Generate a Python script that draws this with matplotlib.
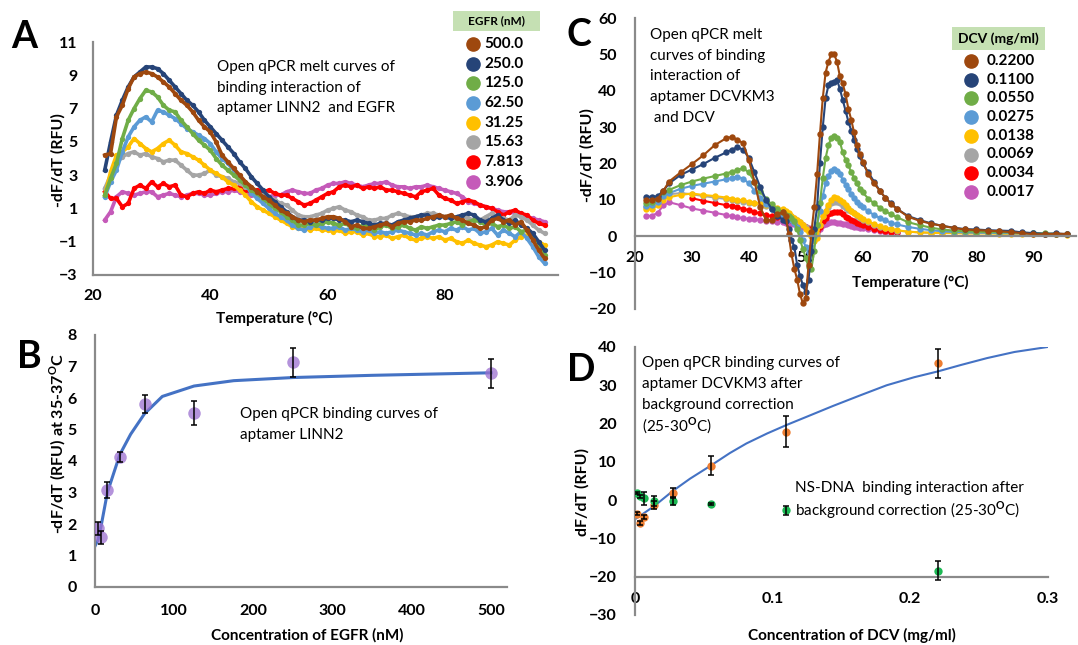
import numpy as np
import matplotlib
matplotlib.use("Agg")
import matplotlib.pyplot as plt
from matplotlib.lines import Line2D
from matplotlib.patches import Rectangle

plt.rcParams['font.family'] = ['Lato', 'DejaVu Sans']
plt.rcParams['font.weight'] = 'bold'
plt.rcParams['axes.labelweight'] = 'bold'
plt.rcParams['mathtext.fontset'] = 'custom'
plt.rcParams['mathtext.rm'] = 'Lato'
plt.rcParams['mathtext.bf'] = 'Lato:bold'

nan = np.nan

# ---------------- panel A : melt curves LINN2 / EGFR ----------------
A_labels = ['500.0', '250.0', '125.0', '62.50', '31.25', '15.63', '7.813', '3.906']
A_temp = [22, 23, 24, 25, 26, 27, 28, 29, 30, 31,
          32, 33, 34, 35, 36, 37, 38, 39, 40, 41,
          42, 43, 44, 45, 46, 47, 48, 49, 50, 51,
          52, 53, 54, 55, 56, 57, 58, 59, 60, 61,
          62, 63, 64, 65, 66, 67, 68, 69, 70, 71,
          72, 73, 74, 75, 76, 77, 78, 79, 80, 81,
          82, 83, 84, 85, 86, 87, 88, 89, 90, 91,
          92, 93, 94, 95, 96, 97]
A_500 = [4.2, 4.3, 6.5, 7.2, 8.2, 8.9, 9.1, 9.2, 9.1, 8.9,
         8.6, 8.3, 7.9, 7.5, 7.2, 6.8, 6.3, 5.9, 5.6, 5.0,
         4.2, 3.8, 3.4, 3.0, 2.6, 2.3, 2.0, 1.7, 1.5, 1.2,
         0.9, 0.7, 0.5, 0.3, 0.2, 0.3, 0.3, 0.4, 0.5, 0.5,
         0.4, 0.2, -0.1, 0.0, -0.2, -0.2, -0.1, 0.0, 0.1, -0.1,
         0.1, 0.2, 0.2, 0.3, 0.3, 0.4, 0.5, 0.6, 0.5, 0.6,
         0.4, 0.3, 0.1, 0.0, -0.2, -0.1, 0.3, 0.4, 0.2, 0.3,
         0.0, 0.2, -0.3, -0.9, -1.5, -2.0]
A_250 = [3.3, 5.0, 6.6, 7.5, 8.3, 8.9, 9.2, 9.5, 9.5, 9.4,
         9.1, 8.7, 8.3, 7.9, 7.5, 7.2, 6.8, 6.3, 5.9, 5.5,
         5.1, 4.7, 4.3, 3.8, 3.4, 2.9, 2.5, 2.1, 1.7, 1.4,
         1.1, 0.8, 0.5, 0.3, 0.3, 0.2, 0.3, 0.3, 0.4, 0.4,
         0.3, 0.3, 0.2, 0.3, 0.2, 0.1, 0.0, 0.1, 0.1, 0.0,
         0.2, 0.3, 0.4, 0.5, 0.6, 0.6, 0.4, 0.5, 0.5, 0.4,
         0.5, 0.6, 0.7, 0.6, 0.3, 0.2, 0.4, 0.6, 0.3, 0.1,
         0.3, 0.0, -0.2, -0.5, -1.0, -1.5]
A_125 = [1.8, 2.8, 3.7, 5.2, 6.3, 7.0, 7.6, 8.1, 8.0, 7.7,
         7.2, 6.9, 6.8, 6.3, 5.9, 5.5, 5.1, 4.8, 4.5, 4.0,
         3.6, 3.3, 3.0, 2.7, 2.4, 2.1, 1.9, 1.6, 1.3, 1.0,
         0.8, 0.5, 0.3, 0.0, 0.0, 0.1, 0.0, 0.1, 0.2, 0.1,
         0.0, 0.1, -0.1, -0.2, 0.0, -0.1, -0.3, -0.1, 0.0, -0.2,
         -0.1, 0.0, -0.2, -0.3, -0.1, -0.2, -0.1, 0.0, 0.0, 0.1,
         0.2, 0.0, 0.2, 0.3, 0.2, 0.0, 0.1, -0.1, 0.0, -0.2,
         -0.1, -0.4, -0.3, -0.8, -1.3, -1.8]
A_62 = [1.7, 2.6, 3.3, 4.4, 5.3, 5.9, 6.3, 6.5, 6.2, 6.9,
        6.8, 6.6, 6.4, 6.1, 5.8, 5.6, 5.4, 5.2, 4.9, 4.4,
        4.0, 3.7, 3.3, 2.9, 2.5, 1.9, 1.6, 1.3, 1.0, 0.7,
        0.5, 0.3, 0.0, -0.2, -0.3, -0.1, 0.0, -0.1, -0.2, -0.2,
        -0.1, -0.3, -0.2, -0.3, -0.4, -0.3, -0.5, -0.4, -0.5, -0.4,
        -0.3, -0.4, -0.5, -0.6, -0.5, -0.6, -0.4, -0.3, -0.4, -0.2,
        -0.3, -0.1, -0.3, -0.2, -0.5, -0.4, -0.2, -0.6, -0.3, -0.5,
        -0.7, -0.4, -0.8, -1.3, -1.9, -2.3]
A_31 = [1.8, 3.2, 4.2, 4.4, 4.7, 5.2, 4.9, 4.6, 4.4, 4.6,
        4.9, 5.1, 4.8, 4.4, 4.3, 4.1, 3.9, 3.6, 3.3, 3.1,
        2.9, 2.6, 2.4, 2.1, 1.8, 1.4, 1.1, 0.9, 0.7, 0.5,
        0.3, 0.1, -0.1, -0.2, -0.2, -0.3, -0.2, -0.3, -0.3, -0.4,
        -0.3, -0.5, -0.4, -0.4, -0.6, -0.5, -0.7, -0.7, -0.6, -0.8,
        -0.7, -0.6, -0.8, -0.9, -0.8, -0.7, -0.8, -0.7, -0.9, -0.8,
        -1.0, -1.1, -0.9, -1.1, -1.2, -1.3, -1.2, -1.0, -1.1, -1.2,
        -0.9, -0.7, -0.6, -0.8, -1.0, -1.2]
A_15 = [2.2, 3.0, 3.7, 4.1, 4.3, 4.4, 4.2, 4.3, 4.1, 4.0,
        3.8, 3.9, 3.9, 3.6, 3.3, 3.0, 3.0, 3.1, 3.3, 3.0,
        2.9, 2.8, 2.6, 2.5, 2.3, 2.1, 1.9, 1.8, 1.7, 1.5,
        1.3, 1.2, 0.9, 0.6, 0.5, 0.5, 0.6, 0.7, 0.9, 1.0,
        1.1, 0.9, 0.8, 0.6, 0.5, 0.3, 0.3, 0.4, 0.4, 0.6,
        0.7, 0.6, 0.5, 0.5, 0.6, 0.7, 0.7, 0.6, 0.5, 0.5,
        0.4, 0.5, 0.4, 0.3, 0.3, 0.5, 0.7, 0.5, 0.4, 0.3,
        0.6, 0.5, 0.3, 0.0, -0.3, -0.5]
A_7 = [2.0, 1.6, 1.6, 1.1, 1.3, 2.2, 2.4, 2.2, 2.6, 2.3,
       2.5, 2.3, 2.4, 1.8, 1.7, 1.9, 2.0, 1.9, 2.1, 2.0,
       2.1, 2.2, 2.2, 2.3, 2.1, 2.0, 2.1, 2.0, 2.1, 1.9,
       1.8, 1.8, 1.6, 1.4, 1.2, 1.3, 1.5, 1.7, 1.9, 2.0,
       2.3, 2.4, 2.3, 2.4, 2.2, 2.3, 2.2, 2.3, 2.1, 2.1,
       2.0, 1.9, 1.8, 1.7, 2.0, 2.1, 2.2, 1.8, 1.6, 1.5,
       1.3, 1.4, 1.5, 1.4, 1.2, 1.1, 1.0, 0.8, 0.6, 0.8,
       0.9, 0.7, 0.6, 0.3, 0.1, 0.0]
A_3 = [0.3, 0.8, 1.7, 2.0, 1.9, 1.8, 1.9, 2.0, 2.0, 1.7,
       1.8, 1.9, 1.8, 1.7, 1.8, 1.9, 1.9, 1.8, 1.8, 1.9,
       2.0, 2.0, 2.1, 2.0, 1.9, 1.8, 1.8, 1.7, 1.7, 1.8,
       1.8, 2.0, 2.1, 2.0, 1.9, 1.9, 2.1, 2.2, 2.4, 2.5,
       2.5, 2.6, 2.5, 2.4, 2.3, 2.4, 2.5, 2.5, 2.6, 2.4,
       2.3, 2.3, 2.2, 2.3, 2.3, 2.4, 2.3, 2.2, 2.1, 2.0,
       1.9, 1.7, 1.4, 1.3, 1.2, 1.1, 1.0, 0.9, 0.8, 0.8,
       0.7, 0.6, 0.5, 0.4, 0.3, 0.2]
A_series = [A_500, A_250, A_125, A_62, A_31, A_15, A_7, A_3]

# ---------------- panel C : melt curves DCVKM3 / DCV ----------------
C_labels = ['0.2200', '0.1100', '0.0550', '0.0275', '0.0138', '0.0069', '0.0034', '0.0017']
C_temp = [22, 23, 24, 25, 26, 28, 30, 32, 34, 36,
          37, 38, 39, 40, 41, 42, 43, 44, 45, 46,
          46.5, 47, 47.5, 48, 48.5, 49, 49.5, 50, 50.5, 51,
          51.5, 52, 52.5, 53, 53.5, 54, 54.5, 55, 55.5, 56,
          56.5, 57, 57.5, 58, 58.5, 59, 59.5, 60, 61, 62,
          63, 64, 65, 66, 68, 70, 72, 74, 76, 78,
          80, 82, 84, 86, 88, 90, 92, 94, 96]
C_0220 = [9.9, 9.8, 10.2, 12.5, 15.0, 17.5, 19.8, 22.2, 25.0, 26.9,
          27.3, 26.5, 25.5, 21.0, 15.0, 8.0, 4.5, 4.3, 6.0, 6.5,
          5.5, 0.5, -5.0, -9.0, -12.0, -16.0, -18.5, -17.0, -8.0, 1.0,
          8.0, 17.0, 28.0, 38.0, 45.0, 48.0, 50.0, 50.0, 48.0, 44.0,
          42.0, 39.0, 35.0, 32.0, 28.5, 25.0, 22.5, 20.5, 17.0, 14.5,
          12.5, 10.5, 8.8, 7.5, 5.3, 4.2, 3.4, 2.8, 2.2, 1.8,
          1.6, 1.5, 1.3, 1.1, 0.8, 0.5, 0.5, 0.6, 0.6]
C_0110 = [10.8, 10.8, 11.0, 12.5, 14.5, 16.8, 18.3, 19.8, 21.5, 23.0,
          23.8, 24.4, 23.8, 21.5, 17.5, 13.5, 10.0, 7.5, 5.5, 4.5,
          4.0, 2.0, -1.0, -3.0, -8.0, -11.0, -13.5, -15.5, -12.0, -4.0,
          2.0, 8.0, 20.0, 30.0, 38.0, 41.5, 42.0, 42.5, 43.0, 40.5,
          37.5, 34.5, 31.5, 29.0, 26.5, 24.0, 22.0, 20.0, 17.5, 15.0,
          12.5, 10.5, 9.0, 7.5, 5.5, 4.4, 3.5, 2.8, 2.3, 1.9,
          1.8, 1.6, 1.5, 1.4, 1.0, 0.8, 0.6, 0.7, 0.5]
C_0055 = [9.0, 9.5, 10.5, 12.0, 12.7, 14.0, 15.0, 15.8, 16.5, 17.2,
          17.7, 18.2, 18.7, 17.5, 15.0, 12.3, 10.3, 8.7, 7.5, 6.5,
          5.8, 5.5, 5.0, 4.0, 2.0, -1.0, -3.5, -6.0, -8.5, -9.0,
          -4.0, 3.0, 9.0, 16.0, 21.5, 25.0, 27.0, 27.5, 27.0, 26.0,
          23.0, 21.0, 19.5, 17.5, 16.0, 14.5, 13.0, 12.0, 10.3, 9.0,
          7.8, 6.8, 6.0, 5.2, 3.8, 3.0, 2.3, 1.8, 1.5, 1.3,
          1.2, 1.1, 1.0, 1.0, 0.9, 0.8, 0.7, 0.6, 0.5]
C_0275 = [8.4, 8.5, 9.5, 11.0, 11.8, 13.0, 13.8, 14.4, 15.0, 15.6,
          16.0, 16.3, 15.8, 14.5, 12.5, 10.5, 8.8, 7.5, 6.5, 5.8,
          5.3, 5.0, 4.5, 3.5, 2.5, 1.0, -1.0, -3.0, -4.5, -3.0,
          0.0, 3.0, 7.0, 11.0, 14.5, 16.5, 18.0, 18.5, 18.0, 17.0,
          15.5, 14.0, 13.0, 11.5, 10.5, 9.5, 8.6, 8.0, 6.8, 5.8,
          5.0, 4.3, 3.7, 3.2, 2.5, 2.0, 1.6, 1.3, 1.1, 1.0,
          0.9, 0.9, 0.8, 0.8, 0.7, 0.7, 0.6, 0.5, 0.5]
C_0138 = [7.3, 7.5, 8.5, 10.0, 10.7, 11.3, 11.7, 11.3, 11.0, 10.6,
          10.3, 10.0, 9.8, 9.5, 9.2, 9.0, 8.6, 8.2, 7.8, 7.3,
          6.8, 6.2, 5.6, 5.0, 4.4, 3.8, 3.0, 2.0, 1.0, 0.0,
          -1.5, -0.5, 3.0, 5.5, 7.0, 8.5, 10.0, 10.8, 10.5, 10.0,
          9.3, 8.5, 7.8, 7.0, 6.4, 5.8, 5.3, 4.8, 4.0, 3.3,
          2.7, 2.2, 1.9, 1.6, 1.2, 1.0, 0.9, 0.8, 0.8, 0.7,
          0.7, 0.7, 0.6, 0.6, 0.6, 0.5, 0.5, 0.5, 0.4]
C_0069 = [8.0, 8.3, 9.5, 11.0, 11.5, 11.8, 11.5, 11.0, 10.6, 10.2,
          10.0, 9.7, 9.5, 9.2, 9.0, 8.7, 8.3, 7.8, 7.3, 6.8,
          6.4, 6.0, 5.5, 5.0, 4.4, 3.8, 3.1, 2.5, 1.5, 0.5,
          -0.5, 0.5, 3.0, 5.5, 7.0, 8.0, 9.0, 9.3, 9.5, 9.0,
          8.3, 7.8, 7.2, 6.8, 6.2, 5.6, 5.0, 4.5, 3.8, 3.1,
          2.6, 2.1, 1.8, 1.5, 1.2, 1.0, 0.9, 0.9, 0.9, 0.8,
          0.8, 0.9, 0.9, 1.2, 0.9, 0.7, 0.6, 0.6, 0.5]
C_0034 = [nan, nan, nan, nan, nan, nan, 10.4, 9.7, 9.1, 8.5,
          8.2, 7.9, 7.5, 7.1, 6.6, 6.2, 5.8, 5.5, 5.2, 5.0,
          4.8, 4.6, 4.3, 4.0, 3.7, 3.4, 3.0, 2.5, 2.0, 1.5,
          0.8, 1.5, 2.6, 4.2, 5.0, 6.0, 6.3, 6.5, 6.7, 6.6,
          6.0, 5.3, 4.9, 4.5, 4.1, 3.7, 3.3, 3.0, 2.5, 2.0,
          1.6, 1.3, 1.1, 1.0, nan, nan, nan, nan, nan, nan,
          nan, nan, nan, nan, nan, nan, nan, nan, nan]
C_0017 = [5.5, 5.6, 6.4, 8.5, 9.3, 8.5, 7.6, 7.0, 6.4, 5.8,
          5.4, 5.1, 4.9, 4.7, 4.6, 4.4, 4.2, 4.1, 3.9, 3.8,
          3.7, 3.6, 3.4, 3.2, 3.0, 2.8, 2.6, 2.4, 2.1, 1.7,
          1.3, 1.2, 2.0, 3.0, 3.4, 3.6, 3.8, 3.8, 3.7, 3.6,
          3.4, 3.2, 3.0, 2.8, 2.6, 2.5, 2.3, 2.2, 1.9, 1.6,
          1.3, 1.1, 0.9, 0.8, nan, nan, nan, nan, nan, nan,
          nan, nan, nan, nan, nan, nan, nan, nan, nan]
C_series = [C_0220, C_0110, C_0055, C_0275, C_0138, C_0069, C_0034, C_0017]

# ---------------- panel B : binding curve LINN2 ----------------
B_conc = [3.906, 7.813, 15.63, 31.25, 62.5, 125, 250, 500]
B_val = [1.86, 1.58, 3.08, 4.12, 5.80, 5.51, 7.13, 6.78]
B_err = [0.20, 0.20, 0.25, 0.15, 0.28, 0.38, 0.45, 0.47]
B_fit_conc = [0, 3.906, 7.813, 15.63, 31.25, 45, 62.5, 85, 125, 175, 250, 350, 500]
B_fit_val = [1.3, 1.5, 1.95, 3.0, 4.2, 4.85, 5.5, 6.05, 6.38, 6.55, 6.65, 6.72, 6.8]

# ---------------- panel D : binding curve DCVKM3 ----------------
D_conc = [0.0017, 0.0034, 0.0069, 0.0138, 0.0275, 0.055, 0.11, 0.22]
D_apt = [-3.6, -5.9, -4.3, -1.3, 1.9, 9.0, 17.9, 35.7]
D_apt_err = [0.4, 0.5, 0.5, 1.0, 1.4, 2.4, 4.0, 3.9]
D_ns = [1.8, 1.0, 0.5, -0.1, -0.2, -1.0, -2.7, -18.4]
D_ns_err = [0.3, 0.4, 1.7, 1.3, 1.0, 0.3, 1.2, 2.5]
D_fit_conc = [0, 0.0069, 0.0138, 0.0275, 0.04, 0.055, 0.069, 0.081, 0.096, 0.11,
              0.125, 0.144, 0.164, 0.183, 0.203, 0.22, 0.237, 0.256, 0.276, 0.3]
D_fit_val = [-5.0, -3.3, -1.6, 2.4, 5.6, 9.0, 12.3, 14.8, 17.4, 19.6,
             21.8, 24.6, 27.4, 30.0, 32.1, 33.6, 35.3, 37.1, 38.7, 40.0]
D_xticklabels = ['0', '0.1', '0.2', '0.3']

colors = ['#9e480e', '#264478', '#70ad47', '#5b9bd5', '#ffc000', '#a5a5a5', '#ff0000', '#c55ab9']
grey = '#8a8a8a'

W, H = 1078, 645
fig = plt.figure(figsize=(W / 100, H / 100), dpi=100)


def box(l, t, r, b):
    return [l / W, 1 - b / H, (r - l) / W, (b - t) / H]


def axcoord(bx, px, py):
    l, t, r, b = bx
    return (px - l) / (r - l), (b - py) / (b - t)


def basic(ax):
    ax.spines['top'].set_visible(False)
    ax.spines['right'].set_visible(False)
    for s in ['left', 'bottom']:
        ax.spines[s].set_color(grey)
        ax.spines[s].set_linewidth(1.6)
    ax.tick_params(length=0, labelsize=11.5)
    ax.set_facecolor('none')


def ftext(px, py, s, **kw):
    fig.text(px / W, 1 - py / H, s, **kw)


def key(header, hbox, labels, mx, tx, y0, dy, hsize):
    l, t, r, b = hbox
    fig.add_artist(Rectangle((l / W, 1 - b / H), (r - l) / W, (b - t) / H,
                             transform=fig.transFigure, facecolor='#c5e0b3', edgecolor='none'))
    ftext((l + r) / 2, (t + b) / 2, header, ha='center', va='center', fontsize=hsize)
    for i, (lab, c) in enumerate(zip(labels, colors)):
        y = y0 + dy * i
        fig.add_artist(Line2D([mx / W], [1 - y / H], transform=fig.transFigure,
                              marker='o', ms=9.5, color=c, ls='none'))
        ftext(tx, y, lab, ha='left', va='center', fontsize=11)


# ---- A ----
bxA = (93, 42, 558, 275)
axA = fig.add_axes(box(*bxA))
basic(axA)
for vals, c in reversed(list(zip(A_series, colors))):
    axA.plot(A_temp, vals, color=c, lw=2.6, marker='o', ms=3.8, mew=0)
axA.set_xlim(20, 99.3)
axA.set_ylim(-3, 11)
axA.set_xticks([20, 40, 60, 80])
axA.set_yticks([-3, -1, 1, 3, 5, 7, 9, 11])
axA.tick_params(axis='x', pad=10)
axA.tick_params(axis='y', pad=11)
axA.set_xlabel('Temperature (°C)', fontsize=11, va='center')
axA.xaxis.set_label_coords(*axcoord(bxA, 274, 318))
axA.set_ylabel('-dF/dT (RFU)', fontsize=11.5, va='center')
axA.yaxis.set_label_coords(*axcoord(bxA, 58, 160))
for i, line in enumerate(['Open qPCR melt curves of', 'binding interaction of',
                          'aptamer LINN2  and EGFR']):
    ftext(217, 67 + 20.7 * i, line, fontsize=11, fontweight='normal', va='center')
key('EGFR (nM)', (453, 11, 540, 31), A_labels, 473, 484, 44, 19.7, 8.5)

# ---- C ----
bxC = (635, 18, 1076, 308.7)
axC = fig.add_axes(box(*bxC))
basic(axC)
for vals, c in reversed(list(zip(C_series, colors))):
    axC.plot(C_temp, vals, color=c, lw=1.5, marker='o', ms=4.6, mew=0)
axC.set_xlim(20, 97.5)
axC.set_ylim(-20, 60)
axC.spines['bottom'].set_position(('data', 0))
axC.set_xticks([20, 30, 40, 50, 60, 70, 80, 90])
axC.set_yticks([-20, -10, 0, 10, 20, 30, 40, 50, 60])
axC.tick_params(axis='x', pad=11)
axC.tick_params(axis='y', pad=13)
axC.set_xlabel('Temperature (°C)', fontsize=11, va='center')
axC.xaxis.set_label_coords(*axcoord(bxC, 910, 282))
axC.set_ylabel('-dF/dT (RFU)', fontsize=11.5, va='center')
axC.yaxis.set_label_coords(*axcoord(bxC, 587, 155))
for i, line in enumerate(['Open qPCR melt', 'curves of binding', 'interaction of',
                          'aptamer DCVKM3', ' and DCV']):
    ftext(650, 35 + 20.7 * i, line, fontsize=11, fontweight='normal', va='center')
key('DCV (mg/ml)', (952, 27, 1045, 50), C_labels, 971, 987, 61, 18.7, 10)

# ---- B ----
bxB = (95, 335, 507, 587)
axB = fig.add_axes(box(*bxB))
basic(axB)
axB.plot(B_fit_conc, B_fit_val, color='#4472c4', lw=2.2, zorder=2)
axB.errorbar(B_conc, B_val, yerr=B_err, fmt='none', ecolor='black', elinewidth=1.1,
             capsize=2.5, capthick=1.1, zorder=4)
axB.plot(B_conc, B_val, 'o', color='#9b6fd0', ms=9, mew=0, alpha=0.75, zorder=3)
axB.set_xlim(0, 520)
axB.set_ylim(0, 8)
axB.set_xticks([0, 100, 200, 300, 400, 500])
axB.set_yticks([0, 1, 2, 3, 4, 5, 6, 7, 8])
axB.tick_params(axis='x', pad=12)
axB.tick_params(axis='y', pad=13)
axB.set_xlabel('Concentration of EGFR (nM)', fontsize=11, va='center')
axB.xaxis.set_label_coords(*axcoord(bxB, 307, 635))
axB.set_ylabel('-dF/dT (RFU) at 35-37$^{\\mathrm{O}}$C', fontsize=11.5, va='center')
axB.yaxis.set_label_coords(*axcoord(bxB, 58, 443))
for i, line in enumerate(['Open qPCR binding curves of', 'aptamer LINN2']):
    ftext(240, 414 + 21 * i, line, fontsize=11, fontweight='normal', va='center')

# ---- D ----
bxD = (635, 347, 1047.5, 615)
axD = fig.add_axes(box(*bxD))
basic(axD)
axD.plot(D_fit_conc, D_fit_val, color='#4472c4', lw=1.5, zorder=2)
axD.errorbar(D_conc, D_apt, yerr=D_apt_err, fmt='none', ecolor='black', elinewidth=1.1,
             capsize=2.5, capthick=1.1, zorder=4)
axD.errorbar(D_conc, D_ns, yerr=D_ns_err, fmt='none', ecolor='black', elinewidth=1.1,
             capsize=2.5, capthick=1.1, zorder=4)
axD.plot(D_conc, D_apt, 'o', color='#ed7d31', ms=6, mew=0, zorder=3)
axD.plot(D_conc, D_ns, 'o', color='#1db954', ms=6, mew=0, zorder=3)
axD.set_xlim(0, 0.3)
axD.set_ylim(-30, 40)
axD.spines['bottom'].set_position(('data', -20))
axD.set_xticks([0, 0.1, 0.2, 0.3])
axD.set_xticklabels(D_xticklabels)
axD.set_yticks([-30, -20, -10, 0, 10, 20, 30, 40])
axD.tick_params(axis='x', pad=11)
axD.tick_params(axis='y', pad=13)
axD.set_xlabel('Concentration of DCV (mg/ml)', fontsize=11, va='center')
axD.xaxis.set_label_coords(*axcoord(bxD, 852, 635))
axD.set_ylabel('dF/dT (RFU)', fontsize=11.5, va='center')
axD.yaxis.set_label_coords(*axcoord(bxD, 582, 492))
for i, line in enumerate(['Open qPCR binding curves of', 'aptamer DCVKM3 after',
                          'background correction', '(25-30$^{\\mathrm{O}}$C)']):
    ftext(642, 363 + 21 * i, line, fontsize=11, fontweight='normal', va='center')
for i, line in enumerate(['NS-DNA  binding interaction after',
                          'background correction (25-30$^{\\mathrm{O}}$C)']):
    ftext(795, 488 + 22 * i, line, fontsize=11, fontweight='normal', va='center')

# panel letters
for s, x, y in [('A', 24, 37), ('B', 29, 357), ('C', 579, 35), ('D', 581, 370)]:
    ftext(x, y, s, fontsize=27, fontweight='bold', ha='center', va='center')

fig.savefig('out.png', dpi=100)
